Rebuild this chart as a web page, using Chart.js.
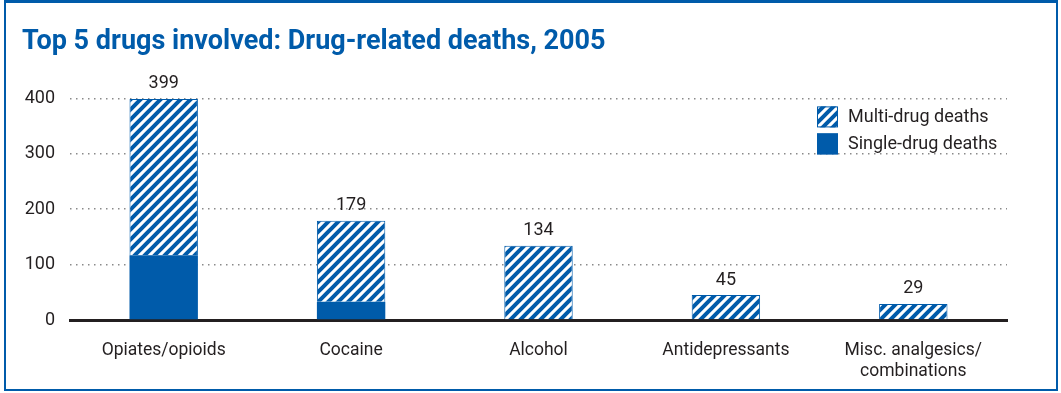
<!DOCTYPE html>
<html>
<head>
<meta charset="utf-8">
<script src="https://cdn.jsdelivr.net/npm/chart.js@4/dist/chart.umd.min.js"></script>
<style>
  html, body { margin: 0; padding: 0; background: #fff; }
  #wrap { position: relative; width: 1061px; height: 393px; }
</style>
</head>
<body>
<div id="wrap"><canvas id="drugChart" width="1061" height="393"></canvas></div>
<script>
const categories = ['Opiates/opioids', 'Cocaine', 'Alcohol', 'Antidepressants', ['Misc. analgesics/', 'combinations']];
const singleDrug = [117, 33, 0, 0, 0];
const multiDrug = [282, 146, 134, 45, 29];
const totals = [399, 179, 134, 45, 29];
const yTicks = [0, 100, 200, 300, 400];

const BLUE = '#005baa';
const TEXT = '#231f20';
const FONT = 'Roboto, "Open Sans", sans-serif';

function makeHatch() {
    const c = document.createElement('canvas');
    c.width = 10; c.height = 10;
    const g = c.getContext('2d');
    g.fillStyle = '#fff';
    g.fillRect(0, 0, 10, 10);
    g.strokeStyle = BLUE;
    g.lineWidth = 4;
    g.beginPath();
    g.moveTo(-2, 2); g.lineTo(2, -2);
    g.moveTo(0, 10); g.lineTo(10, 0);
    g.moveTo(8, 12); g.lineTo(12, 8);
    g.stroke();
    return g.createPattern(c, 'repeat');
}

document.addEventListener('DOMContentLoaded', function() {
    const ctx = document.getElementById('drugChart').getContext('2d');
    const hatch = makeHatch();

    // frame round the whole figure
    const framePlugin = {
        id: 'frame',
        beforeDraw(chart) {
            const c = chart.ctx;
            c.save();
            c.fillStyle = '#fff';
            c.fillRect(0, 0, chart.width, chart.height);
            c.fillStyle = BLUE;
            c.fillRect(4, 0, 1054, 3);
            c.fillRect(4, 0, 2, 391);
            c.fillRect(1056, 0, 2, 391);
            c.fillRect(4, 389, 1054, 2);
            c.restore();
        }
    };

    // totals above the bars
    const totalsPlugin = {
        id: 'totals',
        afterDatasetsDraw(chart) {
            const c = chart.ctx;
            const meta = chart.getDatasetMeta(1);
            const yScale = chart.scales.y;
            c.save();
            c.font = '18px ' + FONT;
            c.fillStyle = TEXT;
            c.textAlign = 'center';
            c.textBaseline = 'bottom';
            meta.data.forEach(function(bar, i) {
                c.fillText(String(totals[i]), bar.x, yScale.getPixelForValue(totals[i]) - 6);
            });
            c.restore();
        }
    };

    // legend in the top right of the plot
    const legendPlugin = {
        id: 'boxLegend',
        afterDraw(chart) {
            const c = chart.ctx;
            const area = chart.chartArea;
            const items = [
                { label: chart.data.datasets[1].label, fill: hatch },
                { label: chart.data.datasets[0].label, fill: BLUE }
            ];
            c.save();
            c.font = '18px ' + FONT;
            c.textBaseline = 'middle';
            items.forEach(function(item, i) {
                const x = area.right - 190;
                const y = area.top + 8 + i * 27;
                c.fillStyle = item.fill;
                c.fillRect(x, y, 21, 21);
                c.strokeStyle = BLUE;
                c.lineWidth = 1;
                c.strokeRect(x + 0.5, y + 0.5, 20, 20);
                c.fillStyle = TEXT;
                c.fillText(item.label, x + 31, y + 11);
            });
            c.restore();
        }
    };

    const config = {
        type: 'bar',
        data: {
            labels: categories,
            datasets: [{
                label: 'Single-drug deaths',
                data: singleDrug,
                backgroundColor: BLUE,
                borderWidth: 0,
                barPercentage: 0.73,
                categoryPercentage: 0.5
            }, {
                label: 'Multi-drug deaths',
                data: multiDrug,
                backgroundColor: hatch,
                borderColor: BLUE,
                borderWidth: 1,
                borderSkipped: 'bottom',
                barPercentage: 0.73,
                categoryPercentage: 0.5
            }]
        },
        options: {
            responsive: false,
            animation: false,
            layout: { padding: { left: 22, right: 54, top: 0, bottom: 0 } },
            plugins: {
                legend: { display: false },
                tooltip: { enabled: false },
                title: {
                    display: true,
                    text: 'Top 5 drugs involved: Drug-related deaths, 2005',
                    align: 'start',
                    color: BLUE,
                    font: { family: FONT, size: 27, weight: 'bold', lineHeight: 1.2 },
                    padding: { top: 26, bottom: 40 }
                }
            },
            scales: {
                x: {
                    stacked: true,
                    grid: { display: false },
                    border: { display: true, color: TEXT, width: 3 },
                    ticks: { color: TEXT, font: { family: FONT, size: 17.5 }, padding: 12, maxRotation: 0 },
                    afterFit: function(scale) { scale.height = 73; }
                },
                y: {
                    stacked: true,
                    min: 0,
                    max: 400,
                    afterBuildTicks: function(scale) { scale.ticks = yTicks.map(v => ({ value: v })); },
                    grid: {
                        drawTicks: false,
                        color: function(c) { return c.tick && c.tick.value === 0 ? 'rgba(0,0,0,0)' : '#8a8a8a'; },
                        lineWidth: 1.5
                    },
                    border: { display: false, dash: [1.5, 4.5] },
                    ticks: { color: TEXT, font: { family: FONT, size: 18 }, padding: 15 },
                    afterFit: function(scale) { scale.width = 48; }
                }
            }
        },
        plugins: [framePlugin, totalsPlugin, legendPlugin]
    };

    new Chart(ctx, config);
});
</script>
</body>
</html>
